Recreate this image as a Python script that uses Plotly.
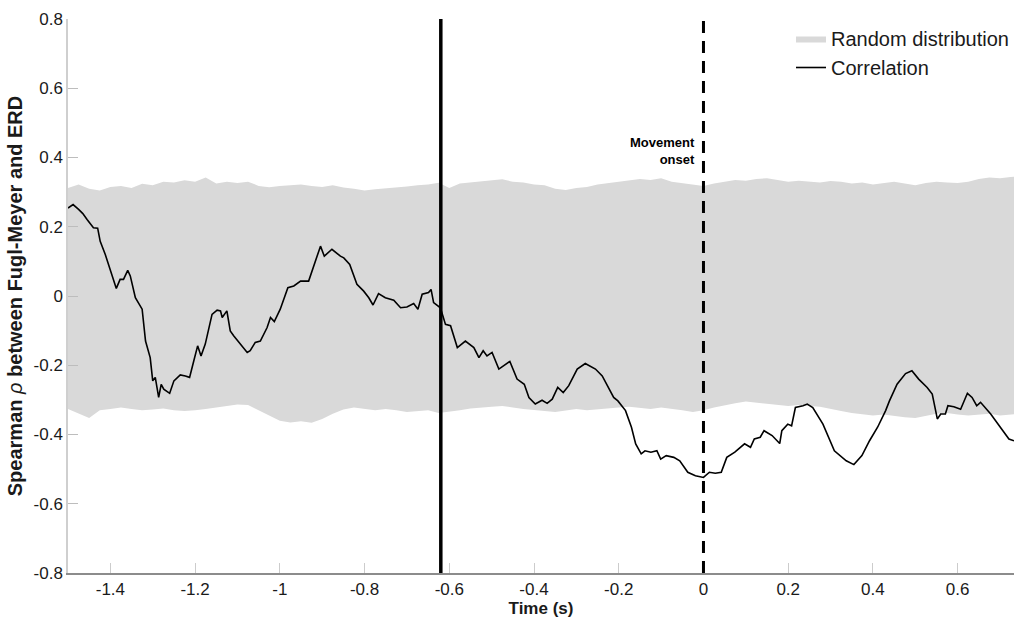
import numpy as np
import plotly.graph_objects as go

# ---- data ----
band_upper = [0.312, 0.322, 0.310, 0.305, 0.315, 0.318, 0.312, 0.324, 0.320, 0.330,
              0.328, 0.334, 0.330, 0.342, 0.325, 0.330, 0.326, 0.330, 0.318, 0.314,
              0.318, 0.320, 0.322, 0.318, 0.315, 0.320, 0.313, 0.310, 0.305, 0.308,
              0.310, 0.314, 0.316, 0.320, 0.322, 0.327, 0.312, 0.325, 0.328, 0.332,
              0.335, 0.337, 0.330, 0.328, 0.322, 0.320, 0.310, 0.306, 0.312, 0.315,
              0.322, 0.326, 0.330, 0.332, 0.338, 0.335, 0.340, 0.330, 0.326, 0.324,
              0.318, 0.325, 0.330, 0.335, 0.333, 0.338, 0.340, 0.335, 0.330, 0.333,
              0.330, 0.328, 0.332, 0.330, 0.325, 0.328, 0.322, 0.326, 0.330, 0.325,
              0.320, 0.326, 0.330, 0.328, 0.326, 0.330, 0.338, 0.342, 0.340, 0.344,
              0.345]
band_lower = [-0.326, -0.340, -0.352, -0.330, -0.326, -0.322, -0.326, -0.330, -0.328, -0.325,
              -0.330, -0.332, -0.330, -0.326, -0.322, -0.318, -0.313, -0.315, -0.330, -0.345,
              -0.360, -0.365, -0.362, -0.366, -0.355, -0.340, -0.328, -0.322, -0.325, -0.330,
              -0.326, -0.330, -0.335, -0.332, -0.330, -0.338, -0.335, -0.330, -0.325, -0.322,
              -0.320, -0.318, -0.322, -0.326, -0.330, -0.332, -0.335, -0.330, -0.326, -0.330,
              -0.328, -0.325, -0.322, -0.320, -0.322, -0.326, -0.322, -0.325, -0.330, -0.335,
              -0.330, -0.322, -0.315, -0.310, -0.305, -0.310, -0.312, -0.315, -0.318, -0.315,
              -0.318, -0.320, -0.325, -0.332, -0.338, -0.342, -0.345, -0.342, -0.345, -0.350,
              -0.352, -0.345, -0.340, -0.338, -0.342, -0.345, -0.342, -0.340, -0.345, -0.342,
              -0.340]
band_t = [round(-1.5 + 0.025 * i, 3) for i in range(len(band_upper))]

corr_t = [-1.500, -1.488, -1.475, -1.465, -1.455, -1.440, -1.430, -1.424, -1.412, -1.400,
          -1.386, -1.377, -1.369, -1.359, -1.353, -1.341, -1.325, -1.317, -1.306, -1.300,
          -1.294, -1.286, -1.280, -1.274, -1.260, -1.250, -1.235, -1.223, -1.213, -1.203,
          -1.194, -1.186, -1.176, -1.160, -1.148, -1.140, -1.136, -1.125, -1.117, -1.109,
          -1.093, -1.077, -1.070, -1.058, -1.046, -1.030, -1.022, -1.013, -0.999, -0.981,
          -0.967, -0.951, -0.932, -0.912, -0.904, -0.895, -0.877, -0.857, -0.849, -0.835,
          -0.818, -0.802, -0.790, -0.780, -0.767, -0.751, -0.731, -0.715, -0.700, -0.684,
          -0.674, -0.664, -0.649, -0.643, -0.637, -0.621, -0.609, -0.597, -0.581, -0.562,
          -0.542, -0.530, -0.520, -0.511, -0.499, -0.483, -0.471, -0.457, -0.440, -0.423,
          -0.412, -0.397, -0.381, -0.369, -0.357, -0.344, -0.331, -0.318, -0.298, -0.279,
          -0.255, -0.239, -0.212, -0.202, -0.184, -0.170, -0.160, -0.147, -0.138, -0.124,
          -0.110, -0.101, -0.088, -0.070, -0.056, -0.037, -0.019, 0.000, 0.014, 0.028,
          0.042, 0.055, 0.074, 0.088, 0.097, 0.111, 0.120, 0.134, 0.143, 0.162,
          0.180, 0.185, 0.199, 0.208, 0.217, 0.235, 0.245, 0.258, 0.282, 0.309,
          0.337, 0.355, 0.374, 0.392, 0.411, 0.430, 0.439, 0.457, 0.477, 0.492,
          0.508, 0.528, 0.540, 0.552, 0.560, 0.571, 0.577, 0.591, 0.607, 0.623,
          0.634, 0.645, 0.654, 0.678, 0.701, 0.721, 0.733]
corr_v = [0.254, 0.264, 0.250, 0.238, 0.221, 0.197, 0.196, 0.158, 0.120, 0.077,
          0.022, 0.048, 0.048, 0.074, 0.058, -0.005, -0.038, -0.130, -0.178, -0.245,
          -0.235, -0.293, -0.255, -0.269, -0.281, -0.245, -0.228, -0.231, -0.235, -0.187,
          -0.144, -0.173, -0.139, -0.053, -0.041, -0.043, -0.062, -0.043, -0.101, -0.115,
          -0.139, -0.163, -0.158, -0.134, -0.130, -0.091, -0.062, -0.074, -0.038, 0.024,
          0.029, 0.043, 0.043, 0.120, 0.144, 0.115, 0.135, 0.115, 0.110, 0.091,
          0.034, 0.014, -0.005, -0.026, 0.007, -0.005, -0.012, -0.034, -0.032, -0.022,
          -0.038, 0.005, 0.010, 0.019, -0.019, -0.034, -0.082, -0.086, -0.149, -0.130,
          -0.149, -0.178, -0.158, -0.173, -0.163, -0.211, -0.202, -0.189, -0.240, -0.255,
          -0.293, -0.312, -0.301, -0.310, -0.298, -0.264, -0.279, -0.259, -0.211, -0.195,
          -0.211, -0.231, -0.293, -0.303, -0.331, -0.379, -0.427, -0.456, -0.447, -0.451,
          -0.447, -0.471, -0.461, -0.466, -0.476, -0.509, -0.519, -0.524, -0.509, -0.512,
          -0.509, -0.466, -0.451, -0.437, -0.427, -0.437, -0.413, -0.408, -0.389, -0.403,
          -0.426, -0.389, -0.370, -0.375, -0.322, -0.317, -0.312, -0.322, -0.370, -0.447,
          -0.476, -0.487, -0.461, -0.418, -0.379, -0.331, -0.303, -0.255, -0.224, -0.216,
          -0.240, -0.264, -0.283, -0.355, -0.341, -0.341, -0.317, -0.320, -0.327, -0.281,
          -0.293, -0.317, -0.307, -0.341, -0.379, -0.413, -0.418]

x_tickvals = [-1.4, -1.2, -1.0, -0.8, -0.6, -0.4, -0.2, 0.0, 0.2, 0.4, 0.6]
x_ticktext = ["-1.4", "-1.2", "-1", "-0.8", "-0.6", "-0.4", "-0.2", "0", "0.2", "0.4", "0.6"]
y_tickvals = [-0.8, -0.6, -0.4, -0.2, 0.0, 0.2, 0.4, 0.6, 0.8]
y_ticktext = ["-0.8", "-0.6", "-0.4", "-0.2", "0", "0.2", "0.4", "0.6", "0.8"]

cue_time = -0.62
onset_time = 0.0
x_range = [-1.5, 0.733]
y_range = [-0.8, 0.8]

FONT = "Liberation Sans, Arial, Helvetica, sans-serif"

fig = go.Figure()
fig.add_trace(go.Scatter(
    x=band_t + band_t[::-1],
    y=band_upper + band_lower[::-1],
    fill="toself", fillcolor="#d9d9d9", mode="lines",
    line=dict(width=0, color="#d9d9d9"),
    name="Random distribution", hoverinfo="skip"))
fig.add_trace(go.Scatter(
    x=corr_t, y=corr_v, mode="lines",
    line=dict(color="black", width=1.6),
    name="Correlation"))

fig.add_shape(type="line", xref="x", yref="y", x0=cue_time, x1=cue_time,
              y0=y_range[0], y1=y_range[1], line=dict(color="black", width=3.5), layer="above")
fig.add_shape(type="line", xref="x", yref="y", x0=onset_time, x1=onset_time,
              y0=y_range[0], y1=y_range[1], line=dict(color="black", width=3, dash="12px,8px"),
              layer="above")

fig.add_annotation(x=-0.015, y=0.418, xref="x", yref="y", text="<b>Movement<br>onset</b>",
                   showarrow=False, xanchor="right", yanchor="middle", align="right",
                   font=dict(family=FONT, size=13, color="black"))

tickfont = dict(family=FONT, size=17, color="#1a1a1a")

fig.update_layout(
    width=1014, height=620,
    margin=dict(l=68, r=0, t=19, b=47),
    plot_bgcolor="white", paper_bgcolor="white",
    font=dict(family=FONT, color="#1a1a1a"),
    xaxis=dict(range=x_range, tickvals=x_tickvals, ticktext=x_ticktext,
               showgrid=False, zeroline=False, showline=True, linecolor="#8c8c8c",
               linewidth=1.5, ticks="inside", ticklen=10, tickcolor="#cccccc", tickwidth=1.2,
               tickfont=tickfont,
               title=dict(text="<b>Time (s)</b>", font=dict(family=FONT, size=17), standoff=2)),
    yaxis=dict(range=y_range, tickvals=y_tickvals, ticktext=y_ticktext,
               showgrid=False, zeroline=False, showline=True, linecolor="#cfcfcf",
               linewidth=1.5, ticks="inside", ticklen=10, tickcolor="#bdbdbd", tickwidth=1.2,
               tickfont=tickfont,
               title=dict(text="<b>Spearman </b><i>ρ</i><b> between Fugl-Meyer and ERD</b>",
                          font=dict(family=FONT, size=20), standoff=6)),
    legend=dict(x=1.0, y=1.0, xanchor="right", yanchor="top", xref="paper", yref="paper",
                bgcolor="rgba(0,0,0,0)", font=dict(family=FONT, size=20, color="#1a1a1a"),
                itemwidth=30, tracegroupgap=0),
    showlegend=True,
)

fig.write_html("out.html")
